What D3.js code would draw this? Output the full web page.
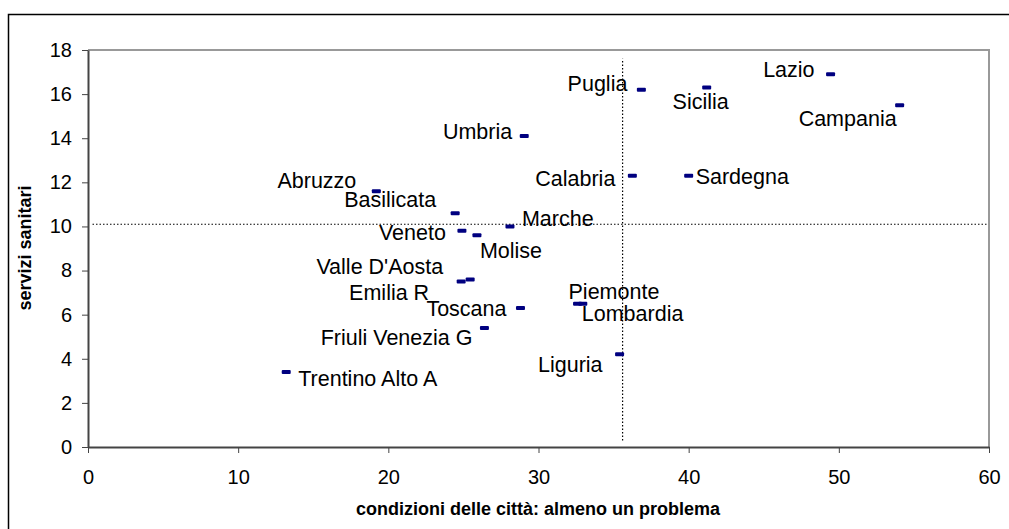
<!DOCTYPE html>
<html>
<head>
<meta charset="utf-8">
<script src="https://cdn.jsdelivr.net/npm/d3@7"></script>
<style>
  body { margin: 0; background: #fff; }
  svg { font-family: "Liberation Sans", Arial, sans-serif; }
</style>
</head>
<body>
<svg width="1009" height="529"></svg>
<script>
// regioni
let regions = ["Lazio", "Sicilia", "Campania", "Sardegna", "Puglia", "Umbria", "Calabria",
               "Abruzzo", "Basilicata", "Marche", "Veneto", "Molise", "Valle D'Aosta",
               "Emilia R", "Toscana", "Piemonte", "Lombardia", "Friuli Venezia G",
               "Liguria", "Trentino Alto A"];
// condizioni delle città: almeno un problema
let xValues = [49.45, 41.2, 54.05, 40.0, 36.85, 29.05, 36.25,
               19.2, 24.45, 28.1, 24.9, 25.9, 25.45,
               24.85, 28.8, 32.6, 32.95, 26.4,
               35.4, 13.2];
// servizi sanitari
let yValues = [16.9, 16.3, 15.5, 12.3, 16.2, 14.1, 12.3,
               11.6, 10.6, 10.0, 9.8, 9.6, 7.6,
               7.5, 6.3, 6.5, 6.5, 5.4,
               4.2, 3.4];
let xTicks = [0, 10, 20, 30, 40, 50, 60];
let yTicks = [0, 2, 4, 6, 8, 10, 12, 14, 16, 18];
// linee di riferimento (medie)
let refX = 35.6, refXRange = [0.3, 17.6];
let refY = 10.1, refYRange = [0.3, 59.9];

// label placement: [anchor, dx, dy] relative to the marker
let labelPos = {
    "Lazio": ["end", -16, -5],
    "Sicilia": ["middle", -6, 14],
    "Campania": ["end", -3, 13],
    "Sardegna": ["start", 7, 1],
    "Puglia": ["end", -14, -6],
    "Umbria": ["end", -12, -5],
    "Calabria": ["end", -17, 3],
    "Abruzzo": ["end", -20, -11],
    "Basilicata": ["end", -19, -14],
    "Marche": ["start", 12, -8],
    "Veneto": ["end", -16, 2],
    "Molise": ["start", 3, 15],
    "Valle D'Aosta": ["end", -27, -13],
    "Emilia R": ["end", -32, 11],
    "Toscana": ["end", -14, 0],
    "Piemonte": ["start", -9, -12],
    "Lombardia": ["start", -1, 10],
    "Friuli Venezia G": ["end", -12, 10],
    "Liguria": ["end", -17, 10],
    "Trentino Alto A": ["start", 12, 6]
};

let svg = d3.select("svg");
let margin = {left: 88, top: 50};

// outer chart border (runs off the right/bottom edge)
svg.append("rect").attr("x", 8.5).attr("y", 14.5).attr("width", 1020).attr("height", 540)
    .attr("fill", "none").attr("stroke", "#000").attr("stroke-width", 1.5);

let x = d3.scaleLinear().domain([0, 60]).range([margin.left, 989]);
let y = d3.scaleLinear().domain([0, 18]).range([447, margin.top]);

// plot area border
svg.append("path")
    .attr("d", `M${x(0)},${y(18)}H${x(60)}V${y(0)}`)
    .attr("fill", "none").attr("stroke", "#999").attr("stroke-width", 2);

let xAxis = svg.append("g").attr("transform", `translate(0,${y(0)})`)
    .call(d3.axisBottom(x).tickValues(xTicks).tickSize(6).tickPadding(17).tickSizeOuter(0));
let yAxis = svg.append("g").attr("transform", `translate(${x(0)},0)`)
    .call(d3.axisLeft(y).tickValues(yTicks).tickSize(6).tickPadding(10).tickSizeOuter(0));

[xAxis, yAxis].forEach(g => {
    g.select(".domain").attr("stroke", "#444").attr("stroke-width", 2);
    g.selectAll(".tick line").attr("stroke", "#444").attr("stroke-width", 1);
    g.selectAll(".tick text").attr("font-size", 20).attr("fill", "#000")
        .attr("font-family", "'Liberation Sans', Arial, sans-serif");
});
xAxis.selectAll(".tick text").attr("dy", "0.71em");

// dotted reference lines
svg.append("line")
    .attr("x1", x(refX)).attr("x2", x(refX))
    .attr("y1", y(refXRange[0])).attr("y2", y(refXRange[1]))
    .attr("stroke", "#000").attr("stroke-width", 1.2).attr("stroke-dasharray", "1.5,2");
svg.append("line")
    .attr("x1", x(refYRange[0])).attr("x2", x(refYRange[1]))
    .attr("y1", y(refY)).attr("y2", y(refY))
    .attr("stroke", "#000").attr("stroke-width", 1.2).attr("stroke-dasharray", "1.5,2");

let pts = regions.map((r, i) => ({name: r, x: xValues[i], y: yValues[i]}));

svg.append("g").selectAll("rect").data(pts).enter().append("rect")
    .attr("x", d => x(d.x) - 4.5).attr("y", d => y(d.y) - 2)
    .attr("width", 9).attr("height", 4).attr("rx", 1)
    .attr("fill", "#000080");

svg.append("g").selectAll("text").data(pts).enter().append("text")
    .attr("x", d => x(d.x) + labelPos[d.name][1])
    .attr("y", d => y(d.y) + labelPos[d.name][2])
    .attr("dy", "0.35em")
    .attr("text-anchor", d => labelPos[d.name][0])
    .attr("font-size", 21.5)
    .text(d => d.name);

// axis titles
svg.append("text")
    .attr("x", 538).attr("y", 515)
    .attr("text-anchor", "middle").attr("font-size", 18).attr("font-weight", "bold")
    .text("condizioni delle città: almeno un problema");
svg.append("text")
    .attr("transform", "translate(31,248) rotate(-90)")
    .attr("text-anchor", "middle").attr("font-size", 18).attr("font-weight", "bold")
    .text("servizi sanitari");
</script>
</body>
</html>
